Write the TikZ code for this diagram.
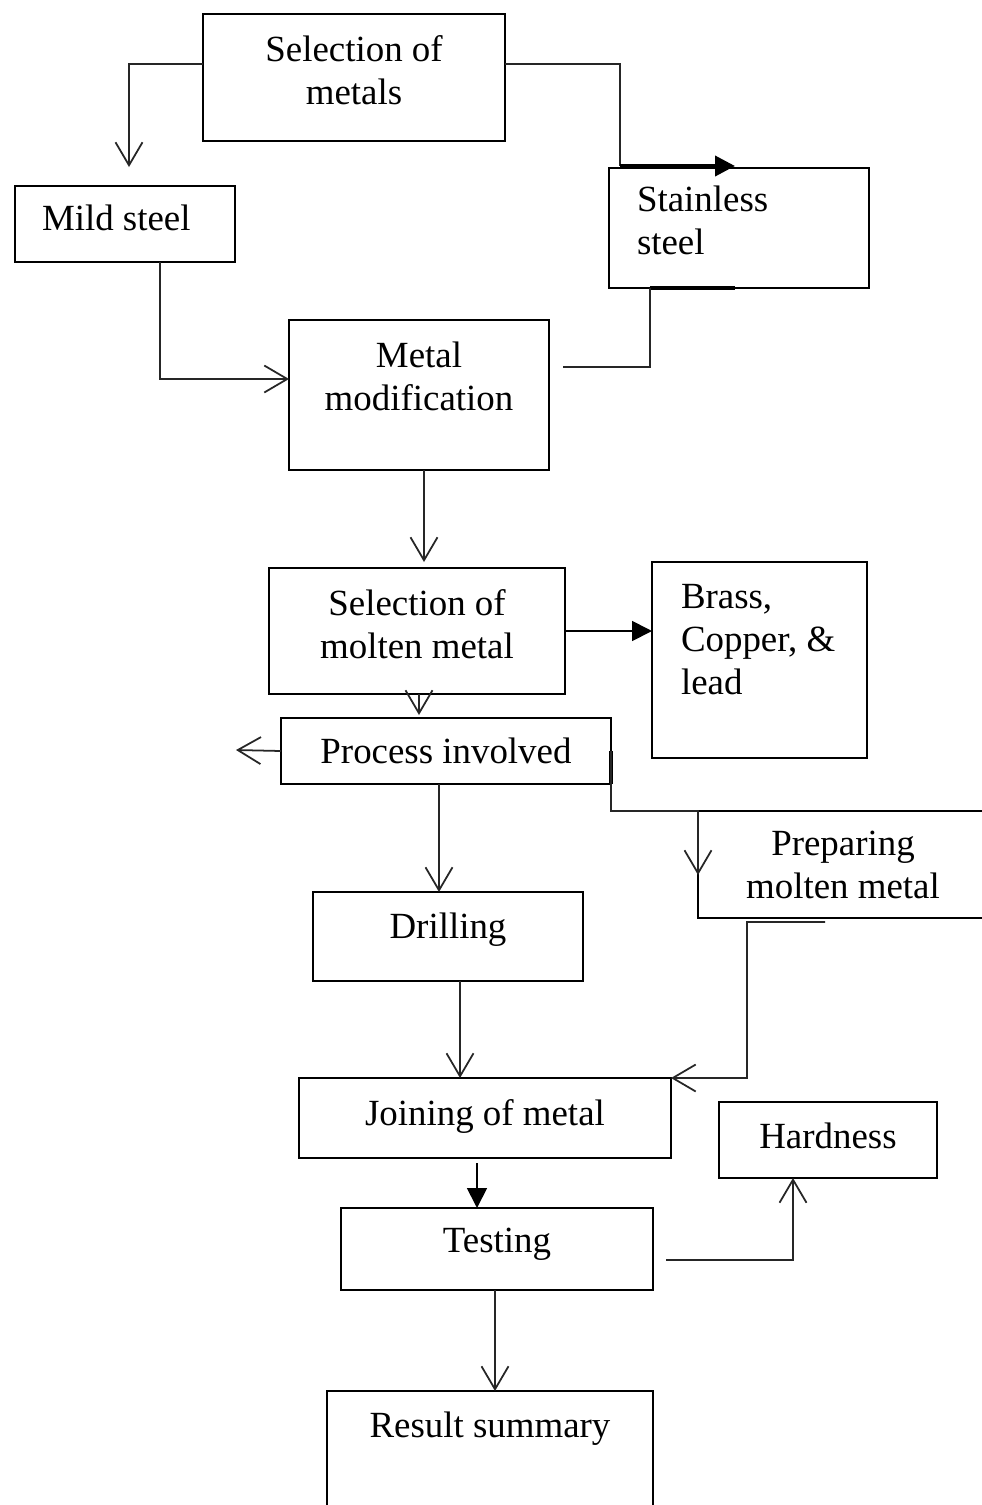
\documentclass[tikz,border=0pt]{standalone}
\usepackage{fontspec}
\setmainfont{Liberation Serif}
\usetikzlibrary{arrows.meta}
\newlength{\px}
\setlength{\px}{0.02cm}
% width, height, first baseline (all in px), alignment, text
\newcommand{\boxtext}[5]{\parbox[c][#2\px][t]{#1\px}{#4\vspace*{\dimexpr#3\px-15pt\relax}\rule{0pt}{15pt}#5}}
\tikzset{
  fcbox/.style={draw=black, line width=1.1pt, inner sep=0pt, outer sep=0pt, anchor=north west, font=\fontsize{21}{24.5}\selectfont},
  farrow/.style={-{Straight Barb[length=0.46cm, width=0.54cm]}, line width=1pt, draw=black!85},
  fsolid/.style={-{Triangle[length=0.4cm, width=0.4cm]}, line width=1pt, draw=black},
  fline/.style={line width=1pt, draw=black!85},
  fheavy/.style={line width=2.2pt, draw=black}
}

\begin{document}
\begin{tikzpicture}[x=0.02cm,y=-0.02cm]
\path[use as bounding box, fill=white] (0,0) rectangle (981,1505);

\node[fcbox] (sel) at (203,14) {\boxtext{302}{127}{47}{\centering}{Selection of\\metals}};
\node[fcbox] (mild) at (15,186) {\boxtext{220}{76}{44}{\raggedright\leftskip=27\px\relax}{Mild steel}};
\node[fcbox] (ss) at (609,168) {\boxtext{260}{120}{43}{\raggedright\leftskip=28\px\relax}{Stainless\\steel}};
\node[fcbox] (mod) at (289,320) {\boxtext{260}{150}{47}{\centering}{Metal\\modification}};
\node[fcbox] (selm) at (269,568) {\boxtext{296}{126}{47}{\centering}{Selection of\\molten metal}};
\node[fcbox] (brass) at (652,562) {\boxtext{215}{196}{46}{\raggedright\leftskip=29\px\relax}{Brass,\\Copper, \&\\lead}};
\node[fcbox] (proc) at (281,718) {\boxtext{330}{66}{45}{\centering}{Process involved}};
\node[fcbox] (prep) at (698,811) {\boxtext{290}{107}{44}{\centering}{Preparing\\molten metal}};
\node[fcbox] (drill) at (313,892) {\boxtext{270}{89}{46}{\centering}{Drilling}};
\node[fcbox] (join) at (299,1078) {\boxtext{372}{80}{47}{\centering}{Joining of metal}};
\node[fcbox] (hard) at (719,1102) {\boxtext{218}{76}{46}{\centering}{Hardness}};
\node[fcbox] (test) at (341,1208) {\boxtext{312}{82}{44}{\centering}{Testing}};
\node[fcbox] (res) at (327,1391) {\boxtext{326}{160}{46}{\centering}{Result summary}};

\coordinate (mildtip) at (129,167);
\coordinate (ssbend) at (620,166);
\coordinate (sstip) at (735,166);
\coordinate (modgap) at (563,367);
\coordinate (pleft) at (236,750);
\coordinate (pbend) at (747,922);

% top branches
\draw[farrow] ([yshift=-1cm]sel.north west) -| (mildtip);
\draw[fline] ([yshift=-1cm]sel.north east) -| (ssbend);
\draw[fsolid, fheavy] (ssbend) -- (sstip);
\draw[farrow] ([xshift=0.7cm]mild.south) |- ([yshift=0.32cm]mod.west);
\draw[fheavy] ([xshift=0.82cm]ss.south west) -- ([xshift=2.52cm]ss.south west);
\draw[fline] ([xshift=0.82cm]ss.south west) |- (modgap);

% middle
\draw[farrow] ([xshift=0.1cm]mod.south) -- ++(0,92);
\draw[fsolid] (selm.east) -- (selm.east -| brass.west);
\draw[farrow] ([xshift=0.04cm]selm.south) -- ++(0,21);
\draw[farrow] (proc.west) -- (pleft);
\draw[fheavy] (proc.east) -- (proc.south east);
\draw[farrow] (proc.east) |- (prep.north west) -- ([yshift=-0.21cm]prep.west);
\draw[farrow] ([xshift=-0.14cm]proc.south) -- ([xshift=-0.18cm]drill.north);

% bottom
\draw[farrow] ([xshift=0.24cm]drill.south) -- ([xshift=-0.5cm]join.north);
\draw[farrow] ([xshift=-0.36cm,yshift=-0.08cm]prep.south) -- (pbend) |- (join.north east);
\draw[fsolid] ([xshift=-0.16cm,yshift=-0.1cm]join.south) -- ([xshift=-0.4cm]test.north);
\draw[farrow] ([xshift=0.26cm,yshift=-0.22cm]test.east) -| ([xshift=-0.7cm]hard.south);
\draw[farrow] ([xshift=-0.04cm]test.south) -- ([xshift=0.1cm]res.north);
\end{tikzpicture}
\end{document}
